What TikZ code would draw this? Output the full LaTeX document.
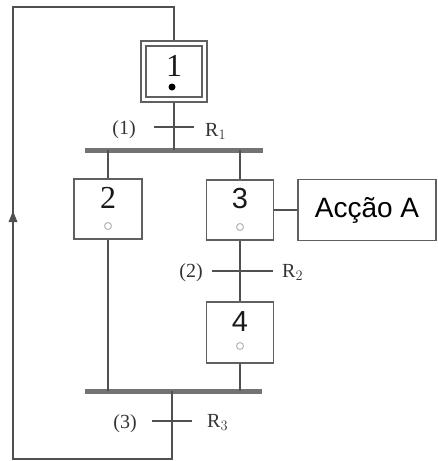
\documentclass[tikz,border=0pt]{standalone}
\usepackage{fontspec}
\setmainfont{Liberation Serif}
\newfontfamily\sansf{Liberation Sans}
\usetikzlibrary{arrows.meta}
\definecolor{linecol}{HTML}{505050}
\definecolor{boxcol}{HTML}{606060}
\definecolor{barcol}{HTML}{737373}
\definecolor{dotcol}{HTML}{B5B5B5}
\tikzset{
  stepbox/.style={draw=boxcol, line width=1.4pt, minimum width=67pt, minimum height=60pt, inner sep=0pt},
  actbox/.style={draw=boxcol, line width=1.4pt, minimum width=138pt, minimum height=61pt, inner sep=0pt, font=\sansf\fontsize{28}{30}\selectfont},
  conn/.style={draw=linecol, line width=1.6pt},
  tick/.style={draw=linecol, line width=1.6pt},
  bar/.style={draw=barcol, line width=5pt},
  digit/.style={font=\fontsize{32}{34}\selectfont, text=black!90, inner sep=0pt},
  sdigit/.style={font=\sansf\fontsize{29}{32}\selectfont, text=black!90, inner sep=0pt},
  lbl/.style={font=\fontsize{20}{22}\selectfont, text=black!80, inner sep=0pt},
  smallcirc/.style={circle, draw=dotcol, line width=1pt, minimum size=7pt, inner sep=0pt},
}
\begin{document}
\begin{tikzpicture}[x=1pt,y=-1pt]
\useasboundingbox (0,0) rectangle (438,461);
% steps
\node[stepbox, minimum width=66pt, minimum height=61pt] (s1) at (174,71.5) {};
\node[draw=boxcol, line width=1.4pt, minimum width=56pt, minimum height=51pt, inner sep=0pt] (s1in) at (174,71.5) {};
\node[digit] (d1) at (174,66) {1};
\fill[black] (172,87) circle (3.5pt);
\node[stepbox, minimum width=68pt] (s2) at (108,209) {};
\node[digit] (d2) at (108,198) {2};
\node[smallcirc] (c2) at (108,226) {};
\node[stepbox] (s3) at (240,210) {};
\node[sdigit] (d3) at (240,199) {3};
\node[smallcirc] (c3) at (240,227) {};
\node[stepbox, minimum height=61pt] (s4) at (240,332.5) {};
\node[sdigit] (d4) at (240,322) {4};
\node[smallcirc] (c4) at (240,346) {};
\node[actbox] (a) at (367,210) {Acção A};
% bars
\coordinate (b1l) at (85,150);
\coordinate (b1r) at (263,150);
\coordinate (b2l) at (85,391);
\coordinate (b2r) at (262,391);
\draw[bar] (b1l) -- (b1r);
\draw[bar] (b2l) -- (b2r);
% transition 1
\coordinate (j1) at (174,150);
\draw[conn] (s1.south) -- (j1);
\coordinate (t1l) at (154,127);
\coordinate (t1r) at (194,127);
\draw[tick] (t1l) -- (t1r);
\node[lbl] (l1) at (124,130) {(1)};
\node[lbl, anchor=base west] (r1) at (205,136) {R$_{1}$};
% to steps 2 and 3
\draw[conn] (108,150) -- (s2.north);
\draw[conn] (s3.north |- j1) -- (s3.north);
\draw[conn] (s3.east) -- (a.west);
% transition 2
\draw[conn] (s3.south) -- (s4.north);
\coordinate (t2l) at (212,271);
\coordinate (t2r) at (273,271);
\draw[tick] (t2l) -- (t2r);
\node[lbl] (l2) at (191,273) {(2)};
\node[lbl, anchor=base west] (r2) at (282,277) {R$_{2}$};
% to bar 2
\draw[conn] (s2.south) -- (s2.south |- b2l);
\draw[conn] (s4.south) -- (s4.south |- b2l);
% transition 3 and loop
\coordinate (j3) at (172,391);
\coordinate (c3b) at (172,459);
\coordinate (cbl) at (13,459);
\coordinate (ctl) at (13,7);
\coordinate (ctr) at (174,7);
\draw[conn, line join=miter] (j3) -- (c3b) -- (cbl) -- (ctl) -- (ctr) -- (s1.north);
\coordinate (t3l) at (152,421);
\coordinate (t3r) at (192,421);
\draw[tick] (t3l) -- (t3r);
\node[lbl] (l3) at (125,424) {(3)};
\node[lbl, anchor=base west] (r3) at (207,427) {R$_{3}$};
% arrow on return line
\coordinate (ar1) at (13,222);
\coordinate (ar2) at (13,211);
\fill[linecol] (ar2) -- ([xshift=-4.5pt]ar1) -- ([xshift=4.5pt]ar1) -- cycle;
\end{tikzpicture}
\end{document}
